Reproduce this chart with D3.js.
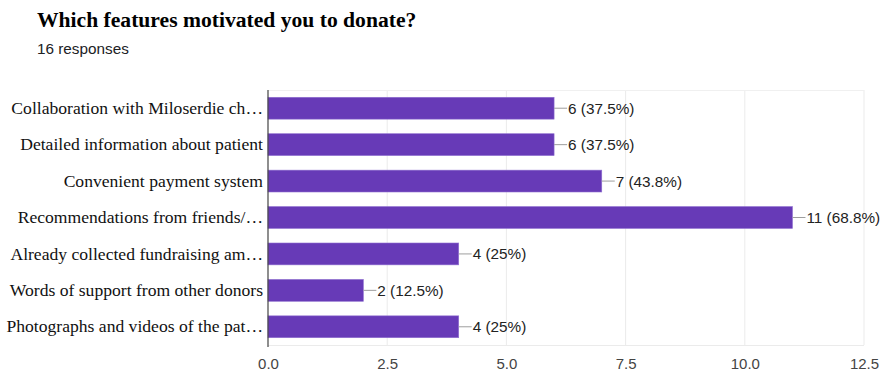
<!DOCTYPE html>
<html>
<head>
<meta charset="utf-8">
<script src="https://cdn.jsdelivr.net/npm/d3@7/dist/d3.min.js"></script>
<style>
  html, body { margin: 0; padding: 0; background: #fff; }
  svg { display: block; }
</style>
</head>
<body>
<svg id="chart" width="880" height="372"></svg>
<script>
// Survey answers (labels as shown on the axis) and response counts
const categories = [
  "Collaboration with Miloserdie ch\u2026",
  "Detailed information about patient",
  "Convenient payment system",
  "Recommendations from friends/\u2026",
  "Already collected fundraising am\u2026",
  "Words of support from other donors",
  "Photographs and videos of the pat\u2026"
];
const counts = [6, 6, 7, 11, 4, 2, 4];
const percentLabels = ["37.5%", "37.5%", "43.8%", "68.8%", "25%", "12.5%", "25%"];
const tickValues = [0, 2.5, 5, 7.5, 10, 12.5];
const tickLabels = ["0.0", "2.5", "5.0", "7.5", "10.0", "12.5"];
const title = "Which features motivated you to donate?";
const subtitle = "16 responses";

const svg = d3.select("#chart");
const plot = { left: 268, right: 864, top: 90, bottom: 345 };

const x = d3.scaleLinear().domain([0, 12.5]).range([plot.left, plot.right]);
const y = d3.scaleBand().domain(categories).range([plot.top, plot.bottom])
  .paddingInner(0.4).paddingOuter(0.2);

const sans = "'Liberation Sans', Arial, sans-serif";
const serif = "'Liberation Serif', 'Times New Roman', serif";

// Title and response count
svg.append("text")
  .attr("x", 37).attr("y", 27)
  .attr("font-family", serif)
  .attr("font-weight", "bold").attr("font-size", 21.6).attr("fill", "#000")
  .text(title);
svg.append("text")
  .attr("x", 37).attr("y", 54)
  .attr("font-family", sans)
  .attr("font-size", 15.3).attr("fill", "#202124")
  .text(subtitle);

// Gridlines and frame
const grid = svg.append("g");
grid.selectAll("line.v").data(tickValues.slice(1)).join("line")
  .attr("x1", d => x(d)).attr("x2", d => x(d))
  .attr("y1", plot.top).attr("y2", plot.bottom)
  .attr("stroke", "#ebebeb").attr("stroke-width", 1);
grid.append("line")
  .attr("x1", plot.left).attr("x2", plot.right)
  .attr("y1", plot.top + 0.5).attr("y2", plot.top + 0.5)
  .attr("stroke", "#f0f0f0");
grid.append("line")
  .attr("x1", plot.left).attr("x2", plot.right)
  .attr("y1", plot.bottom + 0.5).attr("y2", plot.bottom + 0.5)
  .attr("stroke", "#ebebeb");

// Bars
svg.append("g").selectAll("rect").data(counts).join("rect")
  .attr("x", x(0))
  .attr("y", (d, i) => y(categories[i]))
  .attr("width", d => x(d) - x(0))
  .attr("height", y.bandwidth())
  .attr("fill", "#673ab7")
  .attr("stroke", "#8f6fd0").attr("stroke-width", 0.6);

// Leader lines and value labels
const lab = svg.append("g");
lab.selectAll("line").data(counts).join("line")
  .attr("x1", d => x(d)).attr("x2", d => x(d) + 13)
  .attr("y1", (d, i) => y(categories[i]) + y.bandwidth() / 2)
  .attr("y2", (d, i) => y(categories[i]) + y.bandwidth() / 2)
  .attr("stroke", "#9e9e9e").attr("stroke-width", 1);
lab.selectAll("text").data(counts).join("text")
  .attr("x", d => x(d) + 14)
  .attr("y", (d, i) => y(categories[i]) + y.bandwidth() / 2)
  .attr("dy", "0.36em")
  .attr("font-family", sans)
  .attr("font-size", 15.3).attr("fill", "#222")
  .text((d, i) => `${d} (${percentLabels[i]})`);

// Category axis
const yAxis = svg.append("g").attr("transform", `translate(${plot.left},0)`)
  .call(d3.axisLeft(y).tickSize(0).tickPadding(5));
yAxis.select(".domain").remove();
yAxis.selectAll("text")
  .attr("font-family", serif)
  .attr("font-size", 17.6).attr("fill", "#111");
svg.append("line")
  .attr("x1", plot.left).attr("x2", plot.left)
  .attr("y1", plot.top).attr("y2", plot.bottom + 2)
  .attr("stroke", "#444").attr("stroke-width", 1.2);

// Value axis
const xAxis = svg.append("g").attr("transform", `translate(0,${plot.bottom})`)
  .call(d3.axisBottom(x).tickValues(tickValues)
    .tickFormat((d, i) => tickLabels[i]).tickSize(0).tickPadding(13));
xAxis.select(".domain").remove();
xAxis.selectAll("text")
  .attr("font-family", sans)
  .attr("font-size", 15).attr("fill", "#444");
</script>
</body>
</html>
